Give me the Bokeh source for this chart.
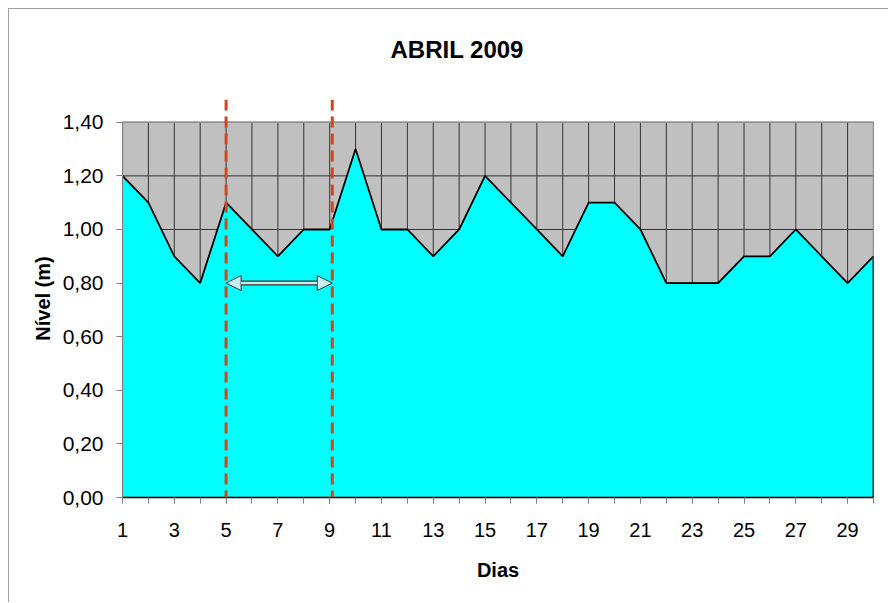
from bokeh.plotting import figure
from bokeh.models import (Range1d, FixedTicker, CustomJSTickFormatter, Span, Arrow,
                          NormalHead)
from bokeh.embed import file_html
from bokeh.resources import INLINE

# ---- data ----
days = list(range(1, 31))
levels = [1.2, 1.1, 0.9, 0.8, 1.1, 1.0, 0.9, 1.0, 1.0, 1.3,
          1.0, 1.0, 0.9, 1.0, 1.2, 1.1, 1.0, 0.9, 1.1, 1.1,
          1.0, 0.8, 0.8, 0.8, 0.9, 0.9, 1.0, 0.9, 0.8, 0.9]
y_ticks = [0.0, 0.2, 0.4, 0.6, 0.8, 1.0, 1.2, 1.4]
x_label_days = days[::2]
marker_days = [5, 9.1]
arrow_level = 0.8
title_text = "ABRIL 2009"

FONT = "Liberation Sans"

p = figure(width=880, height=594, output_backend="svg", toolbar_location=None,
           x_range=Range1d(days[0], days[-1]), y_range=Range1d(0, 1.485),
           min_border_left=113, min_border_right=16, min_border_top=90,
           min_border_bottom=106)
p.outline_line_color = None
p.grid.visible = False
p.background_fill_color = "white"
p.border_fill_color = "white"
p.styles = {"margin-left": "8px", "margin-top": "8px",
            "border-top": "1px solid #A0A0A0", "border-left": "1px solid #A0A0A0"}

# plot area background
p.quad(left=[days[0]], right=[days[-1]], bottom=[y_ticks[0]], top=[y_ticks[-1]],
       fill_color="#C0C0C0", line_color=None)
# grid lines
n = len(days)
p.segment(x0=days, x1=days, y0=[y_ticks[0]] * n, y1=[y_ticks[-1]] * n,
          line_color="#333333", line_width=1)
m = len(y_ticks)
p.segment(x0=[days[0]] * m, x1=[days[-1]] * m, y0=y_ticks, y1=y_ticks,
          line_color="#333333", line_width=1)
# area
p.varea(x=days, y1=[0] * n, y2=levels, fill_color="#00FFFF")
p.line(days, levels, line_color="black", line_width=1.8)
# frame outline of plot area
p.quad(left=[days[0]], right=[days[-1]], bottom=[y_ticks[0]], top=[y_ticks[-1]],
       fill_color=None, line_color="#909090", line_width=1.5)
p.segment(x0=[days[-1]], x1=[days[-1]], y0=[0], y1=[levels[-1]],
          line_color="black", line_width=1.8)

# red dashed markers
for d in marker_days:
    p.add_layout(Span(location=d, dimension="height", line_color="#D4451A",
                      line_dash="11 6", line_width=3))

# double arrow
def head(vis=True):
    return NormalHead(size=15, fill_color="#C8EEF2", line_color="#333333",
                      line_width=1, fill_alpha=1 if vis else 0,
                      line_alpha=1 if vis else 0)

p.add_layout(Arrow(x_start=marker_days[0], x_end=marker_days[1],
                   y_start=arrow_level, y_end=arrow_level,
                   line_color="#333333", line_width=5,
                   start=head(), end=head()))
p.add_layout(Arrow(x_start=marker_days[0], x_end=marker_days[1],
                   y_start=arrow_level, y_end=arrow_level,
                   line_color="#C8EEF2", line_width=2.5,
                   start=head(False), end=head(False)))

# axes
xa = p.xaxis[0]
xa.ticker = FixedTicker(ticks=x_label_days, minor_ticks=days)
xa.major_tick_out = 6
xa.major_tick_in = 0
xa.minor_tick_out = 6
xa.minor_tick_in = 0
xa.major_tick_line_color = "#808080"
xa.minor_tick_line_color = "#808080"
xa.axis_line_color = "black"
xa.axis_line_width = 1.5
xa.major_label_text_font = FONT
xa.major_label_text_font_size = "20px"
xa.major_label_text_color = "black"
xa.major_label_standoff = 19
xa.axis_label = "Dias"
xa.axis_label_text_font = FONT
xa.axis_label_text_font_style = "bold"
xa.axis_label_text_font_size = "20px"
xa.axis_label_text_color = "black"
xa.axis_label_standoff = 19

ya = p.yaxis[0]
ya.ticker = FixedTicker(ticks=y_ticks, minor_ticks=[])
ya.formatter = CustomJSTickFormatter(code="return tick.toFixed(2).replace('.', ',');")
ya.bounds = (y_ticks[0], y_ticks[-1])
ya.major_tick_out = 6
ya.major_tick_in = 0
ya.minor_tick_line_color = None
ya.major_tick_line_color = "#808080"
ya.axis_line_color = "#808080"
ya.major_label_text_font = FONT
ya.major_label_text_font_size = "21px"
ya.major_label_text_color = "black"
ya.major_label_standoff = 13
ya.axis_label = "Nível (m)"
ya.axis_label_text_font = FONT
ya.axis_label_text_font_style = "bold"
ya.axis_label_text_font_size = "20px"
ya.axis_label_text_color = "black"
ya.axis_label_standoff = 6

# title (an empty second line lifts it away from the plot area)
p.title.text = title_text + "\n"
p.title.text_font = FONT
p.title.text_font_style = "bold"
p.title.text_font_size = "24px"
p.title.text_color = "black"
p.title.align = "left"
p.title.offset = 268
p.title.standoff = 20

open("out.html", "w").write(file_html(p, INLINE))
